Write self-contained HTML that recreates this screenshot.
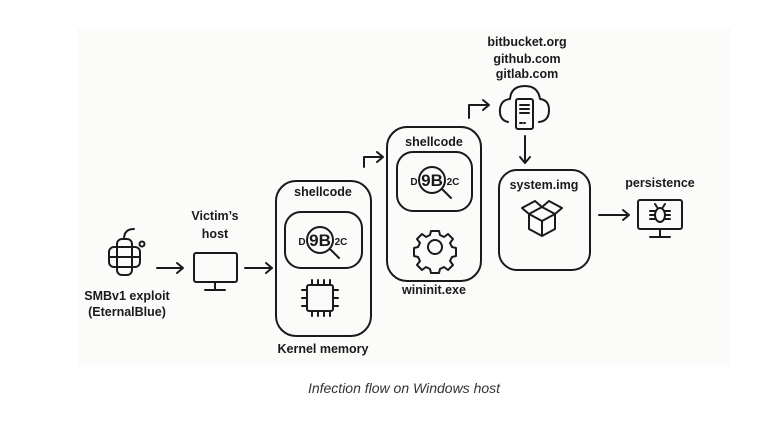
<!DOCTYPE html>
<html><head><meta charset="utf-8"><style>
html,body{margin:0;padding:0;background:#fff;width:768px;height:429px;overflow:hidden}
svg{display:block}
text{font-family:"Liberation Sans",sans-serif;font-weight:bold;font-size:12.5px;fill:#1a1a1a;text-anchor:middle}
text.big{font-size:17px}
text.sm{font-size:10px}
</style></head><body>
<svg width="768" height="429" viewBox="0 0 768 429" xmlns="http://www.w3.org/2000/svg">
<rect x="77" y="29" width="654" height="338" fill="#fbfcfa"/>
<g fill="none" stroke="#1a1a1a" stroke-width="2" stroke-linecap="round" stroke-linejoin="round">
<rect x="117" y="239" width="15" height="36" rx="5"/>
<rect x="109" y="247" width="31" height="20" rx="5"/>
<line x1="109" y1="257" x2="140" y2="257"/>
<path d="M124 239 q0 -10 10 -10"/>
<circle cx="142" cy="244" r="2.5"/>
<path d="M157 268 H182 M177 263 L183 268 L177 273"/>
<path d="M245 268 H271 M266 263 L272 268 L266 273"/>
<path d="M599 215 H628 M623 210 L629 215 L623 220"/>
<path d="M364 167 V157 H382 M377 152 L383 157 L377 162"/>
<path d="M469 118 V105 H488 M483 100 L489 105 L483 110"/>
<path d="M525 136 V162 M520 157 L525 163 L530 157"/>
<rect x="194" y="253" width="43" height="29" rx="2"/>
<path d="M215 282 V289 M205 290 H225"/>
<rect x="276" y="181" width="95" height="155" rx="20"/>
<rect x="285" y="212" width="77" height="56" rx="16"/>
<circle cx="320" cy="240" r="13"/>
<line x1="330" y1="249" x2="339" y2="258"/>
<rect x="307" y="285" width="26" height="26" rx="2"/>
<path d="M312 285 v-5 M318 285 v-5 M324 285 v-5 M330 285 v-5 M312 311 v5 M318 311 v5 M324 311 v5 M330 311 v5 M307 290 h-5 M307 298 h-5 M307 306 h-5 M333 290 h5 M333 298 h5 M333 306 h5"/>
<rect x="387" y="127" width="94" height="154" rx="20"/>
<rect x="397" y="152" width="75" height="59" rx="16"/>
<circle cx="432" cy="180" r="13"/>
<line x1="442" y1="189" x2="451" y2="198"/>
<circle cx="435" cy="247" r="7"/>
<path d="M431 231 h8 l1 4 l4 2 l4 -3 l5 5 l-3 4 l2 4 l4 1 v8 l-4 1 l-2 4 l3 4 l-5 5 l-4 -3 l-4 2 l-1 4 h-8 l-1 -4 l-4 -2 l-4 3 l-5 -5 l3 -4 l-2 -4 l-4 -1 v-8 l4 -1 l2 -4 l-3 -4 l5 -5 l4 3 l4 -2 z"/>
<path d="M508 122 q-9 -2 -8 -13 q1 -9 10 -10 q1 -13 15 -13 q13 0 15 13 q9 1 9 11 q0 11 -10 12"/>
<rect x="516" y="99" width="17" height="30" rx="2" fill="#fbfcfa"/>
<path d="M520 105 h9 M520 109 h9 M520 113 h9 M520 123 h2 M524 123 h1"/>
<rect x="499" y="170" width="91" height="100" rx="18"/>
<path d="M529 214 l13 -7 l13 7 l-13 7 z M529 214 v15 l13 7 l13 -7 v-15 M542 221 v15 M529 214 l-7 -6 l13 -7 l7 6 M555 214 l7 -6 l-13 -7 l-7 6"/>
<rect x="638" y="200" width="44" height="29" rx="2"/>
<path d="M660 229 V236 M650 237 H670"/>
<ellipse cx="660" cy="215" rx="5" ry="7"/>
<path d="M655 211 h-5 M655 215 h-5 M655 219 h-5 M665 211 h5 M665 215 h5 M665 219 h5 M657 207 l-2 -3 M663 207 l2 -3"/>
</g>
<text x="127" y="300">SMBv1 exploit</text>
<text x="127" y="316">(EternalBlue)</text>
<text x="215" y="220">Victim’s</text>
<text x="215" y="238">host</text>
<text x="323" y="196">shellcode</text>
<text x="323" y="353">Kernel memory</text>
<text x="434" y="146">shellcode</text>
<text x="434" y="294">wininit.exe</text>
<text x="527" y="46">bitbucket.org</text>
<text x="527" y="63">github.com</text>
<text x="527" y="78">gitlab.com</text>
<text x="544" y="189">system.img</text>
<text x="660" y="187">persistence</text>
<text class="big" x="320" y="246">9B</text>
<text class="sm" x="302" y="245">D</text>
<text class="sm" x="341" y="245">2C</text>
<text class="big" x="432" y="186">9B</text>
<text class="sm" x="414" y="185">D</text>
<text class="sm" x="453" y="185">2C</text>
<text x="404" y="393" style="font-weight:normal;font-style:italic;font-size:14px;fill:#333">Infection flow on Windows host</text>
</svg>
</body></html>
